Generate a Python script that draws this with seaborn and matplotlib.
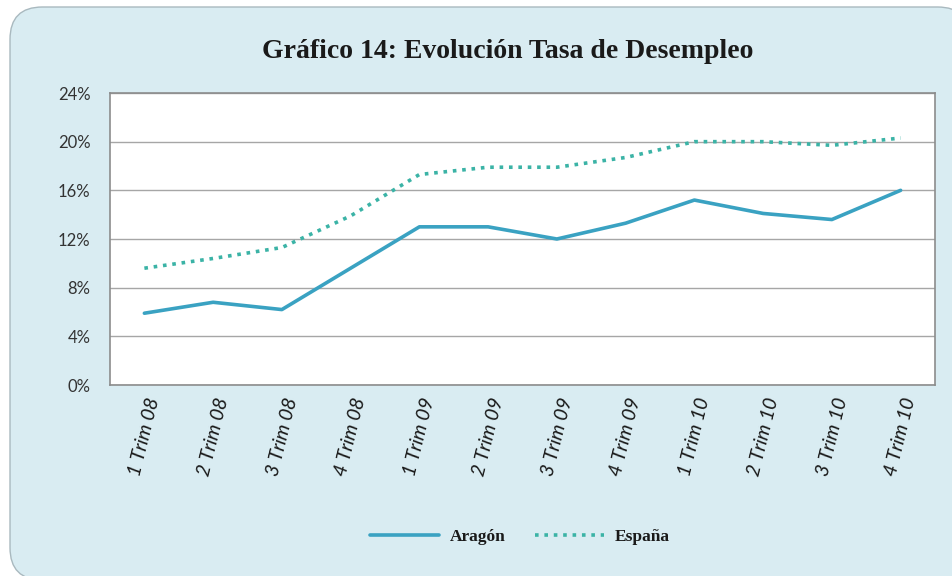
import matplotlib
matplotlib.use("Agg")
import matplotlib.pyplot as plt
import seaborn as sns
import pandas as pd
from matplotlib.patches import FancyBboxPatch
from matplotlib.ticker import FuncFormatter

quarters = ["1 Trim 08", "2 Trim 08", "3 Trim 08", "4 Trim 08",
            "1 Trim 09", "2 Trim 09", "3 Trim 09", "4 Trim 09",
            "1 Trim 10", "2 Trim 10", "3 Trim 10", "4 Trim 10"]
aragon = [5.9, 6.8, 6.2, 9.6, 13.0, 13.0, 12.0, 13.3, 15.2, 14.1, 13.6, 16.0]
espana = [9.6, 10.4, 11.3, 13.9, 17.3, 17.9, 17.9, 18.7, 20.0, 20.0, 19.7, 20.3]
yticks = [0, 4, 8, 12, 16, 20, 24]

df = pd.DataFrame({"Trimestre": quarters * 2,
                   "Tasa": aragon + espana,
                   "Serie": ["Aragón"] * len(quarters) + ["España"] * len(quarters)})

sns.set_style("white")
plt.rcParams['font.family'] = ['Lato', 'DejaVu Sans']

fig = plt.figure(figsize=(9.52, 5.76), dpi=100)
fig.patch.set_facecolor("white")
bg = FancyBboxPatch((10/952, -4/576), 960/952, 573/576, boxstyle="round,pad=0,rounding_size=0.034",
                    transform=fig.transFigure, facecolor="#d9ecf2", edgecolor="#a9b9bf",
                    linewidth=1.0, mutation_aspect=952/576, zorder=-10)
fig.patches.append(bg)

ax = fig.add_axes([110/952, 1 - 385/576, 825/952, 292/576])
ax.set_zorder(1)
ax.set_facecolor("white")

colors = {"Aragón": "#3aa2c2", "España": "#3bb3a6"}
sns.lineplot(data=df, x="Trimestre", y="Tasa", hue="Serie", style="Serie",
             palette=colors, dashes={"Aragón": "", "España": (1, 1.6)},
             linewidth=2.6, ax=ax, sort=False)
for l in ax.get_lines():
    l.set_solid_capstyle("round")

ax.set_xlim(-0.5, len(quarters) - 0.5)
ax.set_ylim(0, 24)
ax.set_yticks(yticks)
ax.yaxis.set_major_formatter(FuncFormatter(lambda v, p: f"{int(v)}%"))
ax.grid(axis="y", color="#a6a6a6", linewidth=1.0)
ax.set_axisbelow(True)
for s in ax.spines.values():
    s.set_color("#8c8c8c")
    s.set_linewidth(1.2)
ax.set_xlabel("")
ax.set_ylabel("")
ax.tick_params(axis="y", labelsize=12, colors="#333333", length=0, pad=14)
ax.set_xticks(range(len(quarters)))
ax.set_xticklabels(quarters, rotation=76, ha="center", va="top", style="italic")
ax.set_xticks([i + 0.5 for i in range(len(quarters) - 1)], minor=True)
ax.tick_params(axis="x", which="major", length=0, pad=8, labelsize=14, colors="#1a1a1a")
ax.tick_params(axis="x", which="minor", length=4, color="#8c8c8c")

fig.text(0.533, 0.91, "Gráfico 14: Evolución Tasa de Desempleo", ha="center", va="center",
         fontsize=20, fontweight="bold", family=["Liberation Serif", "DejaVu Serif"], color="#1a1a1a")

leg = ax.legend(loc="center", bbox_to_anchor=(0.5 - 3 / 825, -0.52), ncol=2,
                frameon=False, handlelength=4.0, columnspacing=1.7, handletextpad=0.6,
                prop={"family": ["Liberation Serif", "DejaVu Serif"], "weight": "bold", "size": 12.5})
for t in leg.get_texts():
    t.set_color("#1a1a1a")

fig.savefig("out.png", dpi=100, facecolor=fig.get_facecolor())
